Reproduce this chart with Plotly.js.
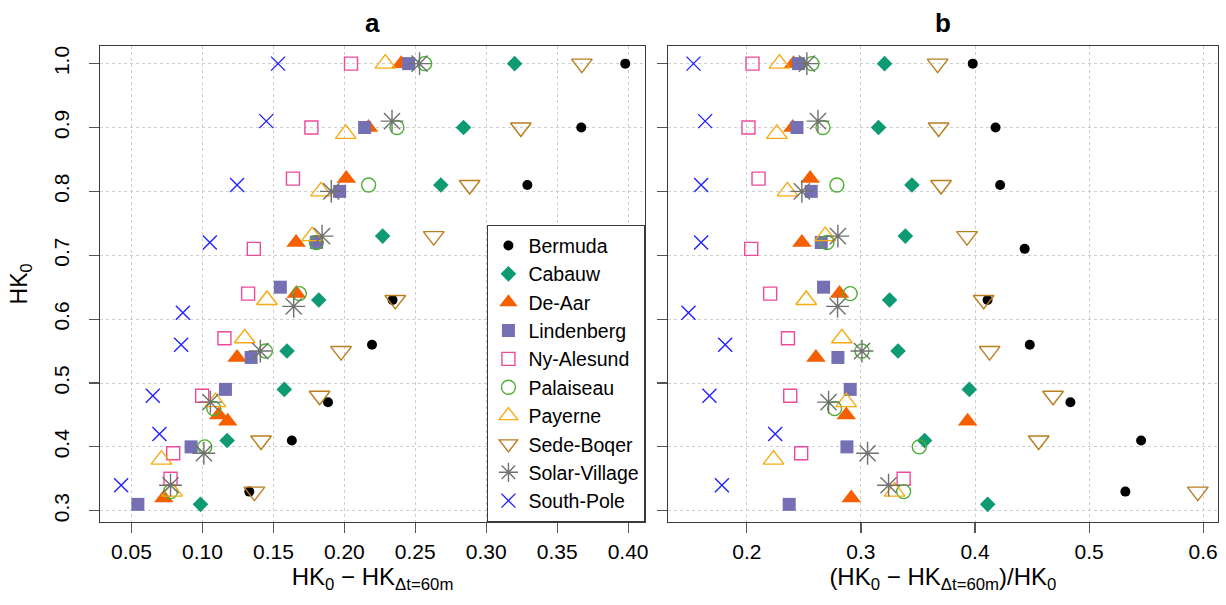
<!DOCTYPE html>
<html>
<head>
<meta charset="utf-8">
<script src="https://cdn.plot.ly/plotly-3.0.1.min.js"></script>
<style>html,body{margin:0;padding:0;background:#fff;}#chart{width:1226px;height:605px;}</style>
</head>
<body>
<div id="chart"></div>
<script>
// ---- data (HK0 level, absolute difference, relative difference) ----
const stations = ["Bermuda","Cabauw","De-Aar","Lindenberg","Ny-Alesund","Palaiseau","Payerne","Sede-Boqer","Solar-Village","South-Pole"];

const bermudaHK0  = [1.0, 0.9, 0.81, 0.71, 0.63, 0.56, 0.47, 0.41, 0.33];
const bermudaDiff = [0.398, 0.367, 0.329, 0.314, 0.234, 0.2195, 0.1885, 0.163, 0.133];
const bermudaRel  = [0.398, 0.418, 0.422, 0.4435, 0.411, 0.448, 0.4836, 0.5456, 0.5318];

const cabauwHK0  = [1.0, 0.9, 0.81, 0.73, 0.63, 0.55, 0.49, 0.41, 0.31];
const cabauwDiff = [0.32, 0.284, 0.268, 0.227, 0.182, 0.1596, 0.1577, 0.1174, 0.0986];
const cabauwRel  = [0.3207, 0.3154, 0.3447, 0.3389, 0.3251, 0.3325, 0.395, 0.3558, 0.4111];

const deaarHK0  = [1.0, 0.9, 0.82, 0.72, 0.64, 0.54, 0.45, 0.44, 0.32];
const deaarDiff = [0.2401, 0.217, 0.2014, 0.166, 0.1662, 0.1244, 0.1115, 0.1178, 0.0728];
const deaarRel  = [0.2409, 0.2403, 0.2555, 0.2482, 0.2812, 0.2605, 0.2871, 0.3935, 0.2915];

const lindenbergHK0  = [1.0, 0.9, 0.8, 0.72, 0.65, 0.54, 0.49, 0.40, 0.31];
const lindenbergDiff = [0.2453, 0.2143, 0.1967, 0.1803, 0.1549, 0.1343, 0.1162, 0.092, 0.0545];
const lindenbergRel  = [0.2453, 0.2439, 0.2564, 0.2652, 0.2672, 0.2798, 0.2906, 0.2877, 0.2371];

const nyalesundHK0  = [1.0, 0.9, 0.82, 0.71, 0.64, 0.57, 0.48, 0.39, 0.35];
const nyalesundDiff = [0.2047, 0.1768, 0.1638, 0.1362, 0.1322, 0.1155, 0.0998, 0.0794, 0.0775];
const nyalesundRel  = [0.2049, 0.2014, 0.2102, 0.2038, 0.2204, 0.236, 0.238, 0.2476, 0.3374];

const palaiseauHK0  = [1.0, 0.9, 0.81, 0.72, 0.64, 0.55, 0.46, 0.40, 0.33];
const palaiseauDiff = [0.2566, 0.2371, 0.2171, 0.1803, 0.1683, 0.1444, 0.108, 0.1016, 0.0775];
const palaiseauRel  = [0.257, 0.2667, 0.2789, 0.2702, 0.2906, 0.3009, 0.2769, 0.3511, 0.3374];

const payerneHK0  = [1.0, 0.89, 0.80, 0.73, 0.63, 0.57, 0.47, 0.38, 0.33];
const payerneDiff = [0.2289, 0.201, 0.1836, 0.1773, 0.1455, 0.1298, 0.1092, 0.0711, 0.0786];
const payerneRel  = [0.2286, 0.2263, 0.2356, 0.2687, 0.252, 0.2833, 0.2871, 0.2234, 0.3295];

const sedeboqerHK0  = [1.0, 0.9, 0.81, 0.73, 0.63, 0.55, 0.48, 0.41, 0.33];
const sedeboqerDiff = [0.3674, 0.3244, 0.2883, 0.263, 0.2359, 0.1977, 0.1826, 0.1413, 0.1366];
const sedeboqerRel  = [0.3672, 0.3681, 0.3702, 0.393, 0.4076, 0.4128, 0.4684, 0.4558, 0.5953];

const solarHK0  = [1.0, 0.91, 0.80, 0.73, 0.62, 0.55, 0.47, 0.39, 0.34];
const solarDiff = [0.253, 0.2336, 0.1908, 0.1843, 0.1643, 0.1408, 0.1056, 0.101, 0.0775];
const solarRel  = [0.2526, 0.2623, 0.2482, 0.2798, 0.2795, 0.3009, 0.2716, 0.3058, 0.3242];

const southpoleHK0  = [1.0, 0.91, 0.81, 0.72, 0.61, 0.56, 0.48, 0.42, 0.34];
const southpoleDiff = [0.1533, 0.145, 0.1244, 0.1052, 0.0862, 0.085, 0.065, 0.0697, 0.0427];
const southpoleRel  = [0.1532, 0.1634, 0.1599, 0.1599, 0.1488, 0.181, 0.1672, 0.2248, 0.1781];

const xTicksA = [0.05, 0.10, 0.15, 0.20, 0.25, 0.30, 0.35, 0.40];
const xTicksB = [0.2, 0.3, 0.4, 0.5, 0.6];
const yTicks  = [0.3, 0.4, 0.5, 0.6, 0.7, 0.8, 0.9, 1.0];

// ---- styles ----
const series = [
  {hk0: bermudaHK0,    d: bermudaDiff,    r: bermudaRel,    sym: "circle",        size: 10, color: "#000000", open: false},
  {hk0: cabauwHK0,     d: cabauwDiff,     r: cabauwRel,     sym: "diamond",       size: 12, color: "#0E9A72", open: false},
  {hk0: deaarHK0,      d: deaarDiff,      r: deaarRel,      sym: "triangle-up",   size: 17, color: "#F55F00", open: false},
  {hk0: lindenbergHK0, d: lindenbergDiff, r: lindenbergRel, sym: "square",        size: 13, color: "#7570B3", open: false},
  {hk0: nyalesundHK0,  d: nyalesundDiff,  r: nyalesundRel,  sym: "square-open",   size: 13, color: "#EE4A9A", open: true},
  {hk0: palaiseauHK0,  d: palaiseauDiff,  r: palaiseauRel,  sym: "circle-open",   size: 14, color: "#4CAF32", open: true},
  {hk0: payerneHK0,    d: payerneDiff,    r: payerneRel,    sym: "triangle-up-open",   size: 18, color: "#F7AA12", open: true},
  {hk0: sedeboqerHK0,  d: sedeboqerDiff,  r: sedeboqerRel,  sym: "triangle-down-open", size: 18, color: "#B97E1F", open: true},
  {hk0: solarHK0,      d: solarDiff,      r: solarRel,      sym: "asterisk-open", size: 19, color: "#707070", open: true},
  {hk0: southpoleHK0,  d: southpoleDiff,  r: southpoleRel,  sym: "x-thin-open",   size: 14, color: "#2222FF", open: true}
];

const traces = [];
series.forEach((s, i) => {
  const marker = {symbol: s.sym, size: s.size, color: s.color,
                  line: {color: s.color, width: s.open ? 1.4 : 0}};
  traces.push({type: "scatter", mode: "markers", name: stations[i], x: s.d, y: s.hk0,
               xaxis: "x", yaxis: "y", marker: marker, showlegend: true, cliponaxis: false});
});
series.forEach((s, i) => {
  const marker = {symbol: s.sym, size: s.size, color: s.color,
                  line: {color: s.color, width: s.open ? 1.4 : 0}};
  traces.push({type: "scatter", mode: "markers", name: stations[i], x: s.r, y: s.hk0,
               xaxis: "x2", yaxis: "y2", marker: marker, showlegend: false, cliponaxis: false});
});

const FONT = "Liberation Sans, Arial, Helvetica, sans-serif";
const axisCommon = {
  showline: true, mirror: true, linecolor: "#3a3a3a", linewidth: 1.3,
  ticks: "outside", ticklen: 10, tickcolor: "#555", tickwidth: 1.2,
  showgrid: true, gridcolor: "#cfcfcf", griddash: "dot", gridwidth: 1,
  zeroline: false, tickfont: {family: FONT, size: 21, color: "#000"}
};
const domA = [0, 0.4876];
const domB = [0.5079, 1];

const layout = {
  width: 1226, height: 605,
  margin: {l: 100, r: 8, t: 46, b: 83},
  paper_bgcolor: "#fff", plot_bgcolor: "#fff",
  font: {family: FONT, color: "#000"},
  showlegend: true,
  legend: {x: domA[1], xanchor: "right", y: 0, yanchor: "bottom",
           bgcolor: "#fff", bordercolor: "#3a3a3a", borderwidth: 1.3,
           font: {family: FONT, size: 19.5, color: "#000"}, tracegroupgap: 0},
  xaxis: Object.assign({}, axisCommon, {domain: domA, anchor: "y", range: [0.0278, 0.412],
          tickvals: xTicksA, tickformat: ".2f",
          title: {text: "HK<sub>0</sub> \u2212 HK<sub>\u0394t=60m</sub>", font: {family: FONT, size: 24}, standoff: 6}}),
  yaxis: Object.assign({}, axisCommon, {domain: [0, 1], anchor: "x", range: [0.2824, 1.0276],
          tickvals: yTicks, tickformat: ".1f", tickangle: -90, ticklabelstandoff: 11,
          title: {text: "HK<sub>0</sub>", font: {family: FONT, size: 23}, standoff: 16}}),
  xaxis2: Object.assign({}, axisCommon, {domain: domB, anchor: "y2", range: [0.1307, 0.613],
          tickvals: xTicksB, tickformat: ".1f",
          title: {text: "(HK<sub>0</sub> \u2212 HK<sub>\u0394t=60m</sub>)/HK<sub>0</sub>", font: {family: FONT, size: 24}, standoff: 6}}),
  yaxis2: Object.assign({}, axisCommon, {domain: [0, 1], anchor: "x2", range: [0.2824, 1.0276],
          tickvals: yTicks, showticklabels: false}),
  annotations: [
    {text: "<b>a</b>", xref: "paper", yref: "paper", x: (domA[0] + domA[1]) / 2, y: 1,
     xanchor: "center", yanchor: "bottom", yshift: 6, showarrow: false, font: {family: FONT, size: 26}},
    {text: "<b>b</b>", xref: "paper", yref: "paper", x: (domB[0] + domB[1]) / 2, y: 1,
     xanchor: "center", yanchor: "bottom", yshift: 6, showarrow: false, font: {family: FONT, size: 26}}
  ]
};

Plotly.newPlot("chart", traces, layout, {staticPlot: true, displayModeBar: false});
</script>
</body>
</html>
